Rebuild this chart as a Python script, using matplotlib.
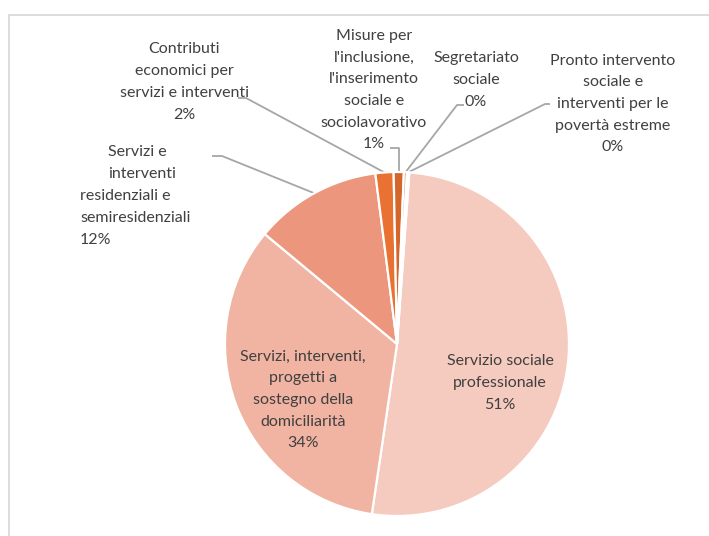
import matplotlib.pyplot as plt
import numpy as np
from matplotlib.patches import Rectangle

plt.rcParams["font.family"] = ["Lato", "DejaVu Sans"]

# -------------------------
# Data
# -------------------------
categories = [
    "Servizio sociale\nprofessionale",
    "Servizi, interventi,\nprogetti a\nsostegno della\ndomiciliarità",
    "Servizi e\ninterventi\nresidenziali e\nsemiresidenziali",
    "Contributi\neconomici per\nservizi e interventi",
    "Misure per\nl'inclusione,\nl'inserimento\nsociale e\nsociolavorativo",
    "Segretariato\nsociale",
    "Pronto intervento\nsociale e\ninterventi per le\npovertà estreme",
]
shares = [51.2, 33.7, 11.95, 1.7, 0.95, 0.3, 0.2]
colors = ["#F6CBBF", "#F1B3A2", "#EC977D", "#E97132", "#D4662C", "#F0A57E", "#F6C7B0"]

# -------------------------
# Layout (pixels in a 709x536 canvas)
# -------------------------
W, H = 709, 536
CX, CY, R = 397, 344, 172
TEXT_COLOR = "#404040"
LINE_COLOR = "#A6A6A6"
FS = 11.5
LS = 1.7


def to_data(x, y):
    return (x - CX) / R, (CY - y) / R


fig = plt.figure(figsize=(W / 100, H / 100), dpi=100)
ax = fig.add_axes([0, 0, 1, 1])

wedges, _ = ax.pie(
    shares,
    colors=colors,
    startangle=85.9,
    counterclock=False,
    radius=1,
    center=(0, 0),
    wedgeprops=dict(edgecolor="white", linewidth=1.6),
)
ax.set_aspect("auto")
ax.set_xlim(-CX / R, (W - CX) / R)
ax.set_ylim(-(H - CY) / R, CY / R)
ax.axis("off")

total = sum(shares)
pct = [f"{round(v / total * 100)}%" for v in shares]


def mid_point(w, r=1.0):
    a = np.deg2rad((w.theta1 + w.theta2) / 2)
    return r * np.cos(a), r * np.sin(a)


def put_text(s, x, y, ha="center"):
    tx, ty = to_data(x, y)
    ax.text(tx, ty, s, ha=ha, va="center", multialignment=ha,
            fontsize=FS, color=TEXT_COLOR, linespacing=LS)


def label(i, x, y):
    put_text(categories[i] + "\n" + pct[i], x, y)


def leader(i, elbow_px, end_px):
    wx, wy = mid_point(wedges[i])
    ex, ey = to_data(*elbow_px)
    sx, sy = to_data(*end_px)
    ax.plot([sx, ex, wx], [sy, ey, wy], color=LINE_COLOR, lw=1.3,
            solid_capstyle="butt", zorder=0)


# labels inside the pie
label(0, 500, 383)
label(1, 303, 400)

# residential label: first two lines sit further right
lines = categories[2].split("\n")
put_text("\n".join(lines[:2]), 108, 163, ha="left")
put_text("\n".join(lines[2:] + [pct[2]]), 80, 218, ha="left")
leader(2, (222, 156), (212, 156))

label(3, 184, 82)
leader(3, (246, 98), (238, 98))

label(4, 374, 90)
wx4, _ = mid_point(wedges[4])
leader(4, (CX + wx4 * R, 148), (390, 148))

label(5, 476, 80)
leader(5, (457, 105), (464, 105))

label(6, 613, 104)
leader(6, (545, 104), (550, 104))

# chart frame
fig.add_artist(Rectangle((9 / W, -0.1), 1.2, 1 - 15 / H + 0.1,
                         transform=fig.transFigure, fill=False,
                         edgecolor="#D9D9D9", lw=1.3))

fig.savefig("out.png", dpi=100)
